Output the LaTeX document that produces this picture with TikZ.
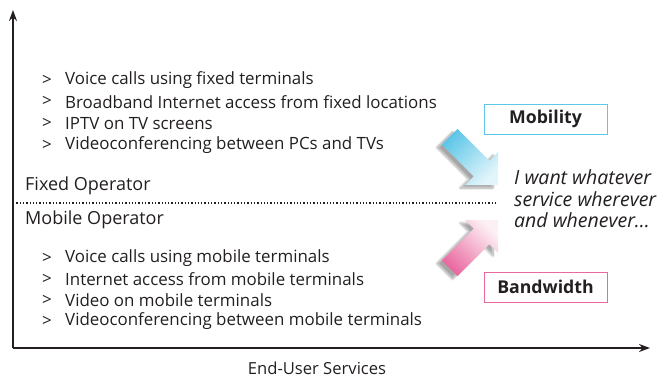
\documentclass[tikz,border=0pt]{standalone}
\usepackage{fontspec}
\setmainfont{Open Sans}
\usetikzlibrary{arrows.meta,shadows.blur}
\definecolor{mobc}{HTML}{5EC6E8}
\definecolor{mobl}{HTML}{E2F5FB}
\definecolor{bwc}{HTML}{E9689F}
\definecolor{bwl}{HTML}{FDF0F5}
\definecolor{txt}{HTML}{231F20}
\tikzset{
  item/.style={anchor=west,inner sep=0pt,font=\fontsize{16.9}{19}\selectfont,text=txt},
  op/.style={anchor=west,inner sep=0pt,font=\fontsize{18}{20}\selectfont,text=txt},
  tag/.style={draw,line width=1pt,minimum width=123pt,minimum height=30pt,inner sep=0pt,font=\bfseries\fontsize{17.7}{19}\selectfont,text=txt},
  axis/.style={line width=1.8pt,draw=txt,-{Stealth[length=11pt,width=8pt]}},
  blockarrow/.style={draw=none,blur shadow={shadow xshift=-5pt,shadow yshift=-3pt,shadow blur steps=8,shadow opacity=35}}
}
\begin{document}
\begin{tikzpicture}[x=1pt,y=-1pt]
\useasboundingbox (0,0) rectangle (660,377);
\coordinate (origin) at (13,348);
\coordinate (ytop) at (13,10);
\coordinate (xend) at (650,348);
\draw[axis] (origin) -- (ytop);
\draw[axis] (origin) -- (xend);
\node[anchor=center,inner sep=0pt,font=\fontsize{16.6}{18}\selectfont,text=txt] (xlabel) at (317,368) {End-User Services};

\foreach \t [count=\i] in {Voice calls using fixed terminals,Broadband Internet access from fixed locations,IPTV on TV screens,Videoconferencing between PCs and TVs}{
  \node[item] (fg\i) at (42,{80+21.7*(\i-1)}) {>};
  \node[item] (f\i) at (65,{80+21.7*(\i-1)}) {\t};
}
\foreach \t [count=\i] in {Voice calls using mobile terminals,Internet access from mobile terminals,Video on mobile terminals,Videoconferencing between mobile terminals}{
  \node[item] (mg\i) at (42,{258+21*(\i-1)}) {>};
  \node[item] (m\i) at (65,{258+21*(\i-1)}) {\t};
}
\node[op] (fixed) at (25,186) {Fixed Operator};
\node[op] (mobile) at (25,220) {Mobile Operator};
\coordinate (dl) at (13,203);
\coordinate (dr) at (495,203);
\draw[dotted,line width=1.3pt,txt] (dl) -- (dr);

\node[tag,draw=mobc] (mob) at (545.5,119) {Mobility};
\node[tag,draw=bwc] (bw) at (545.5,287) {Bandwidth};

\node[anchor=west,align=left,inner sep=0pt,font=\itshape\fontsize{19.5}{21.5}\selectfont,text=txt] (want) at (514,199) {I want whatever\\service wherever\\and whenever...};

% blue arrow
\path[blockarrow,top color=mobc,bottom color=mobl,shading angle=45]
  (498,185) -- (498,152) -- (489.3,160.7) -- (457.5,128.9) -- (441.9,144.5) -- (473.7,176.3) -- (465,185) -- cycle;
% pink arrow
\path[blockarrow,top color=bwc,bottom color=bwl,shading angle=135]
  (498,220) -- (498,253) -- (489.3,244.3) -- (457.5,276.1) -- (441.9,260.5) -- (473.7,228.7) -- (465,220) -- cycle;
\end{tikzpicture}
\end{document}
